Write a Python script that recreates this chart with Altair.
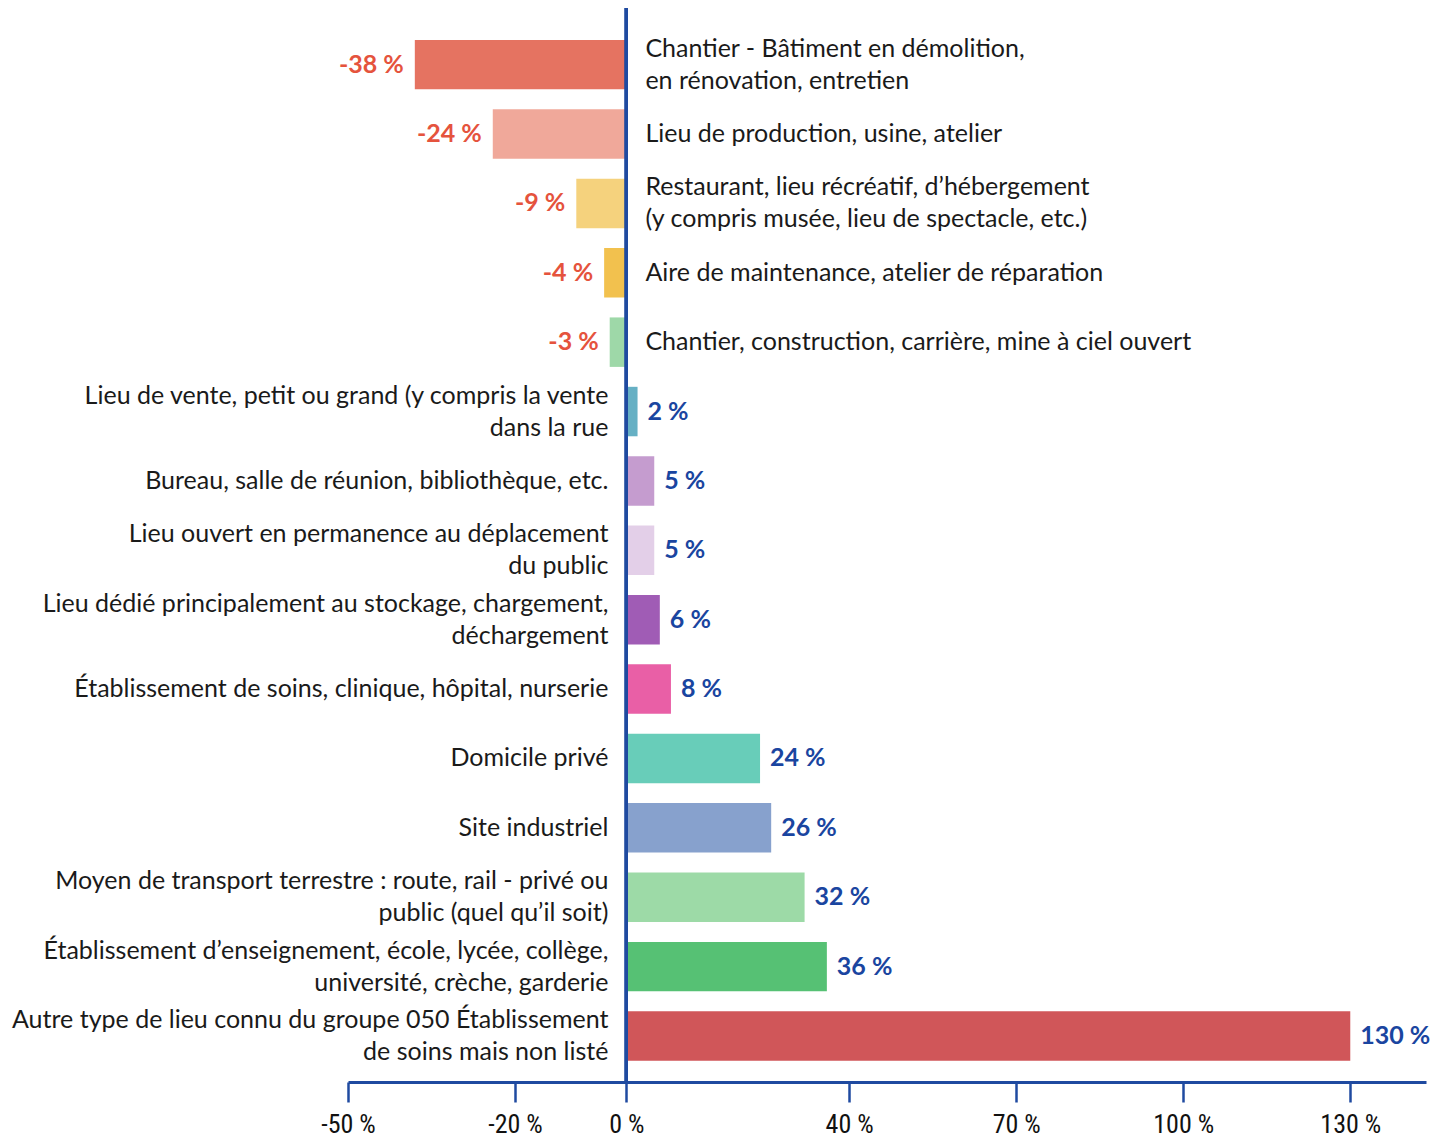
import altair as alt
import pandas as pd

labels = [
    "Chantier - Bâtiment en démolition,\nen rénovation, entretien",
    "Lieu de production, usine, atelier",
    "Restaurant, lieu récréatif, d’hébergement\n(y compris musée, lieu de spectacle, etc.)",
    "Aire de maintenance, atelier de réparation",
    "Chantier, construction, carrière, mine à ciel ouvert",
    "Lieu de vente, petit ou grand (y compris la vente\ndans la rue",
    "Bureau, salle de réunion, bibliothèque, etc.",
    "Lieu ouvert en permanence au déplacement\ndu public",
    "Lieu dédié principalement au stockage, chargement,\ndéchargement",
    "Établissement de soins, clinique, hôpital, nurserie",
    "Domicile privé",
    "Site industriel",
    "Moyen de transport terrestre : route, rail - privé ou\npublic (quel qu’il soit)",
    "Établissement d’enseignement, école, lycée, collège,\nuniversité, crèche, garderie",
    "Autre type de lieu connu du groupe 050 Établissement\nde soins mais non listé",
]
values = [-38, -24, -9, -4, -3, 2, 5, 5, 6, 8, 24, 26, 32, 36, 130]
colors = [
    "#e57361", "#f0a89a", "#f5d27d", "#f2c14e", "#9ed8a8",
    "#66b0c4", "#c59ccf", "#e3cfe8", "#a05cb5", "#e95fa6",
    "#68cdb9", "#87a1cd", "#9ddaa7", "#56c174", "#d05659",
]
tick_values = [-50, -20, 0, 40, 70, 100, 130]

keys = [f"k{i:02d}" for i in range(len(labels))]
df = pd.DataFrame({
    "key": keys,
    "label": [l.split("\n") for l in labels],
    "nlines": [len(l.split("\n")) for l in labels],
    "value": values,
    "vlabel": [f"{v} %" for v in values],
})

BLUE = "#1f4aa0"
FONT = "Lato"
FS = 25

y_enc = alt.Y("key:N", sort=keys, axis=None,
              scale=alt.Scale(paddingInner=0.287, paddingOuter=0.383, align=0.6))
x_scale = alt.Scale(domain=[-50, 143.6], nice=False, zero=True)

base = alt.Chart(df)

bars = base.mark_bar().encode(
    y=y_enc,
    x=alt.X("value:Q", scale=x_scale,
            axis=alt.Axis(values=tick_values, labelExpr="datum.value + ' %'",
                          title=None, grid=False,
                          domainColor=BLUE, domainWidth=3,
                          tickColor=BLUE, tickWidth=2.5, tickSize=20,
                          labelFontSize=26, labelColor="#111111",
                          labelFont="Roboto Condensed",
                          labelPadding=9, labelFlush=False, labelOverlap=False)),
    color=alt.Color("key:N", scale=alt.Scale(domain=keys, range=colors), legend=None),
)

neg_val = base.transform_filter("datum.value < 0").mark_text(
    align="right", baseline="middle", dx=-11, fontSize=25,
    fontWeight="bold", font=FONT, color="#e5533d").encode(
    y=y_enc, x=alt.X("value:Q", scale=x_scale), text="vlabel:N")
pos_val = base.transform_filter("datum.value >= 0").mark_text(
    align="left", baseline="middle", dx=10, fontSize=25,
    fontWeight="bold", font=FONT, color="#1a45a0").encode(
    y=y_enc, x=alt.X("value:Q", scale=x_scale), text="vlabel:N")

cat_layers = []
for sign_expr, align, dx in [("datum.value < 0", "left", 19), ("datum.value >= 0", "right", -18)]:
    for n, dy in [(1, 0), (2, -16)]:
        cat_layers.append(
            base.transform_filter(f"({sign_expr}) && datum.nlines == {n}").mark_text(
                align=align, baseline="middle", dx=dx, dy=dy, fontSize=FS,
                font=FONT, color="#1a1a1a", lineHeight=32).encode(
                y=y_enc, x=alt.datum(0, scale=x_scale), text="label")
        )

zero_rule = base.mark_rule(color=BLUE, strokeWidth=3).encode(
    x=alt.datum(0, scale=x_scale))

chart = alt.layer(bars, zero_rule, neg_val, pos_val, *cat_layers).properties(
    width=1078, height=1074,
    autosize=alt.AutoSizeParams(type="none"),
    padding={"left": 340, "top": 0, "right": 8, "bottom": 55},
).configure_view(stroke=None)

chart.save("out.html", embed_options={"renderer": "svg", "actions": False})
